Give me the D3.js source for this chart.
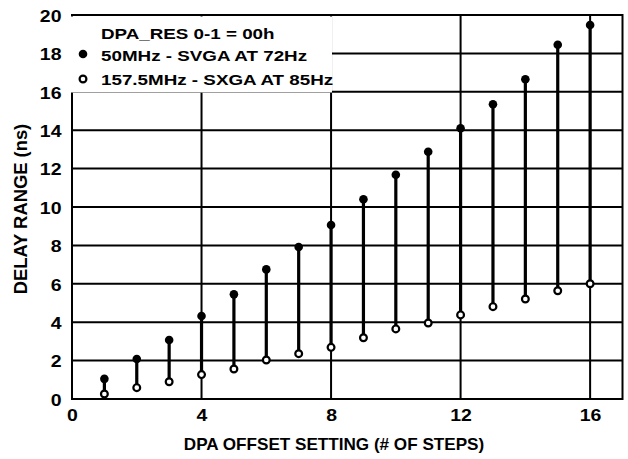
<!DOCTYPE html>
<html>
<head>
<meta charset="utf-8">
<script src="https://cdn.jsdelivr.net/npm/d3@7"></script>
<style>
  body { margin: 0; background: #fff; }
  svg { display: block; }
  text { font-family: "Liberation Sans", Arial, sans-serif; font-weight: bold; fill: #000; }
</style>
</head>
<body>
<div id="chart"></div>
<script>
// DPA offset settings (# of steps)
const steps = [1, 2, 3, 4, 5, 6, 7, 8, 9, 10, 11, 12, 13, 14, 15, 16];
// delay range at 50MHz (filled dots)
const svga72 = [1.05, 2.08, 3.07, 4.32, 5.45, 6.75, 7.92, 9.06, 10.4, 11.68, 12.88, 14.1, 15.35, 16.65, 18.45, 19.48];
// delay range at 157.5MHz (open dots)
const sxga85 = [0.26, 0.59, 0.9, 1.27, 1.56, 2.03, 2.36, 2.69, 3.19, 3.65, 3.96, 4.38, 4.81, 5.21, 5.64, 6.0];
const xTicks = [0, 4, 8, 12, 16];
const yTicks = [0, 2, 4, 6, 8, 10, 12, 14, 16, 18, 20];
const legendTitle = 'DPA_RES 0-1 = 00h';
const legendLabels = ['50MHz - SVGA AT 72Hz', '157.5MHz - SXGA AT 85Hz'];

const width = 628, height = 459;
const margin = { left: 72, right: 5, top: 15, bottom: 60 };

const svg = d3.select('#chart').append('svg')
    .attr('width', width)
    .attr('height', height);

const x = d3.scaleLinear().domain([0, 17]).range([margin.left, 622.5]);
const y = d3.scaleLinear().domain([0, 20]).range([399, margin.top]);

// the original lettering is a wide bold grotesque, so stretch text a bit
function label(parent, tx, ty, str, size, sx, anchor, rot) {
    return parent.append('text')
        .attr('transform', `translate(${tx},${ty})` + (rot ? ` rotate(${rot})` : '') + ` scale(${sx},1)`)
        .attr('text-anchor', anchor || 'start')
        .attr('font-size', size)
        .text(str);
}

const g = svg.append('g');

// Grid lines
g.append('g')
    .selectAll('line')
    .data(yTicks.filter(d => d > 0))
    .join('line')
    .attr('x1', x(0)).attr('x2', x(17))
    .attr('y1', d => y(d)).attr('y2', d => y(d))
    .attr('stroke', '#000').attr('stroke-width', 2);

g.append('g')
    .selectAll('line')
    .data(xTicks.filter(d => d > 0))
    .join('line')
    .attr('x1', d => x(d)).attr('x2', d => x(d))
    .attr('y1', y(0)).attr('y2', y(20))
    .attr('stroke', '#000').attr('stroke-width', 2);

// Frame
g.append('rect')
    .attr('x', x(0)).attr('y', y(20))
    .attr('width', x(17) - x(0)).attr('height', y(0) - y(20))
    .attr('fill', 'none').attr('stroke', '#000').attr('stroke-width', 2);

// Legend box hides grid behind it
g.append('rect')
    .attr('x', x(0) - 2).attr('y', y(20) + 1.5)
    .attr('width', 262).attr('height', 76)
    .attr('fill', '#fff');

// Tick labels
const tickSx = 1.18;
const yAxis = d3.axisLeft(y).tickValues(yTicks).tickSize(0).tickPadding(10.5 / tickSx);
g.append('g')
    .attr('transform', `translate(${x(0)},1)`)
    .call(yAxis)
    .call(s => s.select('.domain').remove())
    .selectAll('text')
    .attr('font-size', 16.5)
    .attr('font-family', '"Liberation Sans", Arial, sans-serif')
    .attr('font-weight', 'bold')
    .attr('transform', `scale(${tickSx},1)`);

const xAxis = d3.axisBottom(x).tickValues(xTicks).tickSize(0).tickPadding(10);
g.append('g')
    .attr('transform', `translate(0,${y(0)})`)
    .call(xAxis)
    .call(s => s.select('.domain').remove())
    .selectAll('text')
    .attr('font-size', 16.5)
    .attr('font-family', '"Liberation Sans", Arial, sans-serif')
    .attr('font-weight', 'bold')
    .attr('transform', `scale(${tickSx},1)`);

// Stems
g.append('g')
    .selectAll('line')
    .data(steps)
    .join('line')
    .attr('x1', d => x(d)).attr('x2', d => x(d))
    .attr('y1', (d, i) => y(sxga85[i])).attr('y2', (d, i) => y(svga72[i]))
    .attr('stroke', '#000').attr('stroke-width', 3.2);

// Filled dots
g.append('g')
    .selectAll('circle')
    .data(steps)
    .join('circle')
    .attr('cx', d => x(d)).attr('cy', (d, i) => y(svga72[i]))
    .attr('r', 4.3).attr('fill', '#000');

// Open dots
g.append('g')
    .selectAll('circle')
    .data(steps)
    .join('circle')
    .attr('cx', d => x(d)).attr('cy', (d, i) => y(sxga85[i]))
    .attr('r', 3.4).attr('fill', '#fff')
    .attr('stroke', '#000').attr('stroke-width', 2.2);

// Legend
const lg = g.append('g');
const legSize = 15.3, legSx = 1.23;
label(lg, 101, 38.5, legendTitle, legSize, legSx);
lg.append('circle').attr('cx', 83).attr('cy', 54).attr('r', 4.3).attr('fill', '#000');
label(lg, 101, 61, legendLabels[0], legSize, legSx);
lg.append('circle').attr('cx', 83).attr('cy', 79).attr('r', 3.4)
    .attr('fill', '#fff').attr('stroke', '#000').attr('stroke-width', 2.2);
label(lg, 101, 85, legendLabels[1], legSize, legSx);

// Axis titles
label(svg, 334, 450, 'DPA OFFSET SETTING (# OF STEPS)', 16.3, 1.05, 'middle');
label(svg, 27, 209, 'DELAY RANGE (ns)', 17.5, 1.05, 'middle', -90);
</script>
</body>
</html>
